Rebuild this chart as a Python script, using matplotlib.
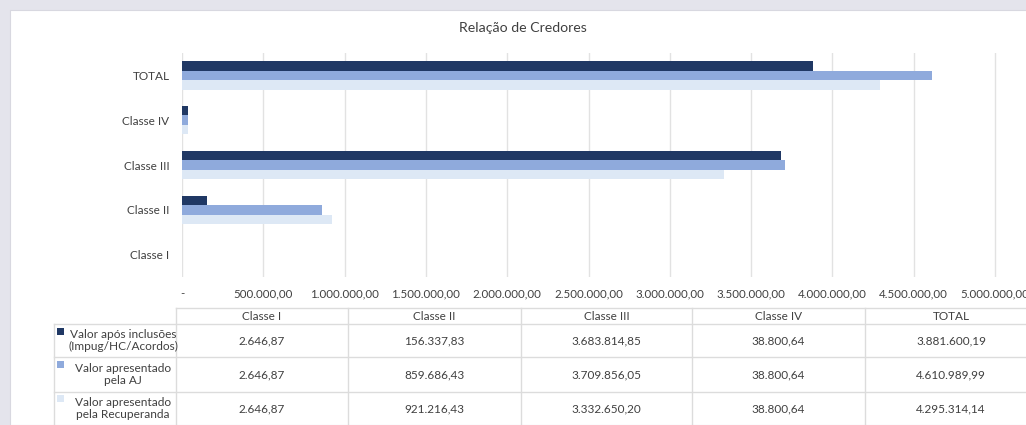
import matplotlib
matplotlib.use('Agg')
import matplotlib.pyplot as plt
from matplotlib.patches import Rectangle
from matplotlib.ticker import FuncFormatter

plt.rcParams['font.family'] = ['Lato', 'DejaVu Sans']

# data
categories = ['Classe I', 'Classe II', 'Classe III', 'Classe IV', 'TOTAL']
series_names = ['Valor após inclusões\n(Impug/HC/Acordos)',
                'Valor apresentado\npela AJ',
                'Valor apresentado\npela Recuperanda']
apos_inclusoes = [2646.87, 156337.83, 3683814.85, 38800.64, 3881600.19]
apresentado_aj = [2646.87, 859686.43, 3709856.05, 38800.64, 4610989.99]
apresentado_rec = [2646.87, 921216.43, 3332650.20, 38800.64, 4295314.14]
series = [apos_inclusoes, apresentado_aj, apresentado_rec]
colors = ['#203864', '#8faadc', '#dde8f5']


def br(v):
    s = f'{v:,.2f}'
    return s.replace(',', 'X').replace('.', ',').replace('X', '.')


W, H = 1026, 425
fig = plt.figure(figsize=(W / 100, H / 100), dpi=100)
fig.patch.set_facecolor('#e4e4ec')

# white chart panel
fig.patches.append(Rectangle((10 / W, 0), 1, 1 - 10 / H, transform=fig.transFigure,
                             facecolor='white', edgecolor='#d8d8e0', lw=0.8, zorder=-5))

ax = fig.add_axes([182 / W, 1 - 277 / H, (W - 182) / W, (277 - 53) / H])
ax.set_facecolor('none')
xmax = (W - 182) / 81.3 * 500000
ax.set_xlim(0, xmax)
ax.set_ylim(-0.5, len(categories) - 0.5)

h = 0.21
offsets = [h, 0, -h]
y = list(range(len(categories)))
for vals, off, c in zip(series, offsets, colors):
    ax.barh([i + off for i in y], vals, height=h, color=c, zorder=3)

ax.set_yticks(y)
ax.set_yticklabels(categories, fontsize=8.5, color='#404040')
ax.set_xticks([i * 500000 for i in range(11)])
ax.xaxis.set_major_formatter(FuncFormatter(lambda v, p: '-' if v == 0 else br(v)))
ax.tick_params(axis='x', labelsize=8.3, labelcolor='#404040', length=0, pad=8)
ax.tick_params(axis='y', length=0, pad=9)
ax.grid(axis='x', color='#e2e2e2', lw=1, zorder=0)
for s in ax.spines.values():
    s.set_visible(False)

fig.text(523 / W, 1 - 28 / H, 'Relação de Credores', fontsize=10.2, color='#404040',
         ha='center', va='center')

# data table
col_x = [176, 348, 521, 692, 865, 1037]
row_y = [308, 324, 357, 392, 425]
line_c = '#dcdcdc'


def fx(px):
    return px / W


def fy(py):
    return 1 - py / H


def hline(x0, x1, yy):
    fig.add_artist(plt.Line2D([fx(x0), fx(x1)], [fy(yy), fy(yy)], color=line_c, lw=1))


def vline(xx, y0, y1):
    fig.add_artist(plt.Line2D([fx(xx), fx(xx)], [fy(y0), fy(y1)], color=line_c, lw=1))


hline(176, W, 308)
for yy in row_y[1:-1]:
    hline(54, W, yy)
vline(54, 324, 425)
for xx in col_x:
    vline(xx, 308, 425)

for j, cat in enumerate(categories):
    cx = (col_x[j] + col_x[j + 1]) / 2
    fig.text(fx(cx), fy(316), cat, fontsize=8.5, color='#404040', ha='center', va='center')
    for i, vals in enumerate(series):
        cy = (row_y[i + 1] + row_y[i + 2]) / 2
        fig.text(fx(cx), fy(cy), br(vals[j]), fontsize=8.5, color='#404040',
                 ha='center', va='center')

for i, (name, c) in enumerate(zip(series_names, colors)):
    cy = (row_y[i + 1] + row_y[i + 2]) / 2
    fig.patches.append(Rectangle((fx(57), fy(335 + i * 34 - (i > 0) * 1)), 7 / W, 7 / H,
                                 transform=fig.transFigure, facecolor=c, edgecolor='none'))
    fig.text(fx(123), fy(cy), name, fontsize=8.6, color='#404040', ha='center',
             va='center', multialignment='center', linespacing=1.15)

fig.savefig('out.png', dpi=100)
